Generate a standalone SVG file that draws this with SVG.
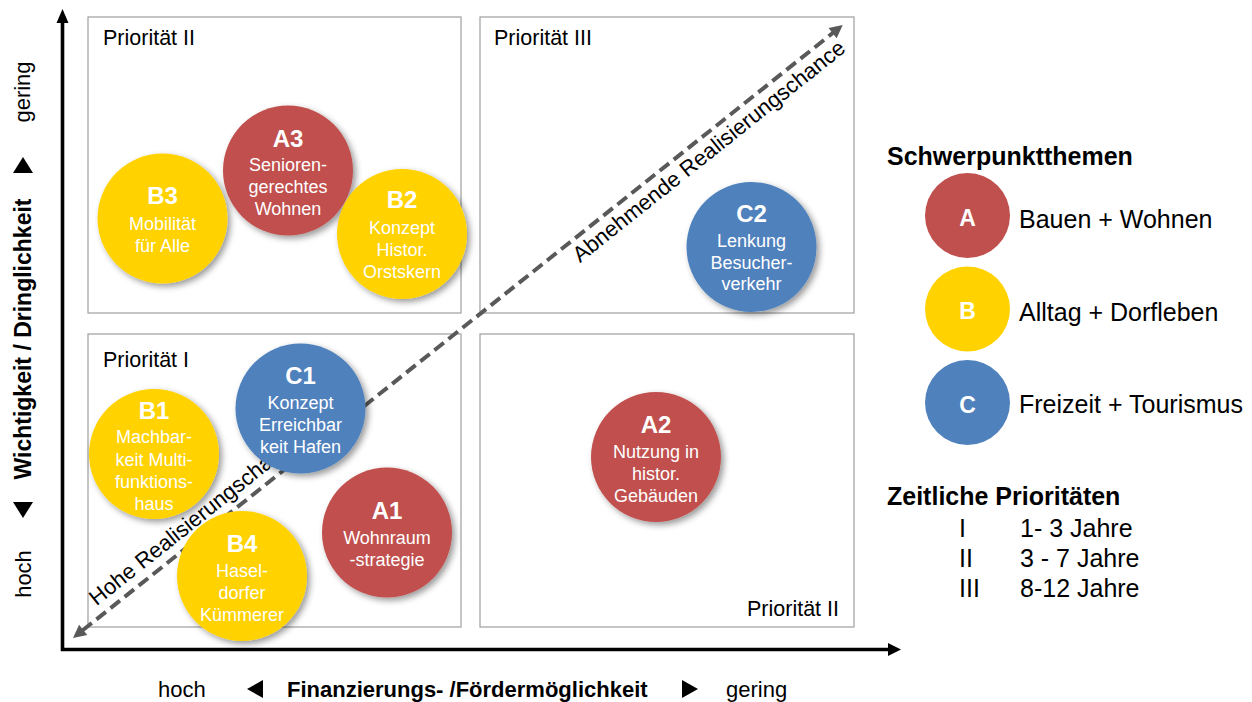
<svg xmlns="http://www.w3.org/2000/svg" width="1252" height="702" viewBox="0 0 1252 702">
<defs>
<style>
text{font-family:"Liberation Sans",Arial,Helvetica,sans-serif;}
.box{fill:#fff;stroke:#a6a6a6;stroke-width:1.3;}
.prio{font-size:21.5px;fill:#000;}
.ct{font-size:24px;font-weight:bold;fill:#fff;text-anchor:middle;}
.cb{font-size:18px;fill:#fff;text-anchor:middle;}
.red{fill:#c0504d;}
.yel{fill:#ffd200;}
.blu{fill:#4f81bd;}
.axis{stroke:#000;stroke-width:3.6;fill:none;}
.diag{stroke:#595959;stroke-width:4;fill:none;stroke-dasharray:12 6;}
.diagtxt{font-size:22px;fill:#000;}
.lab{font-size:22px;fill:#000;}
.labb{font-size:22px;font-weight:bold;fill:#000;}
.leg{font-size:25px;fill:#000;}
.legb{font-size:25px;font-weight:bold;fill:#000;}
.legl{font-size:23px;font-weight:bold;fill:#fff;text-anchor:middle;}
</style>
<filter id="sh" x="-20%" y="-20%" width="150%" height="150%">
<feDropShadow dx="3" dy="3" stdDeviation="3" flood-color="#000" flood-opacity="0.4"/>
</filter>
</defs>
<rect width="1252" height="702" fill="#fff"/>

<g id="quadrants">
<rect class="box" x="88" y="17" width="373" height="296"/>
<rect class="box" x="480" y="17" width="374" height="296"/>
<rect class="box" x="88" y="334" width="373" height="293"/>
<rect class="box" x="480" y="334" width="374" height="293"/>
<text class="prio" x="103" y="45">Priorität II</text>
<text class="prio" x="494" y="45">Priorität III</text>
<text class="prio" x="103" y="367">Priorität I</text>
<text class="prio" x="839" y="616" text-anchor="end">Priorität II</text>
</g>

<g id="connectors">
<polyline class="axis" points="62.5,22 62.5,649.5 889,649.5"/>
<polygon points="62.5,9 56.5,23 68.5,23" fill="#000"/>
<polygon points="901,649.5 888,643 888,656" fill="#000"/>
<g transform="translate(73,638) rotate(-38.53)">
<line class="diag" x1="12" y1="0" x2="972" y2="0"/>
<polygon points="0,0 13,-6.5 13,6.5" fill="#595959"/>
<polygon points="984,0 971,-6.5 971,6.5" fill="#595959"/>
<text class="diagtxt" x="38" y="-10">Hohe Realisierungschance</text>
<text class="diagtxt" x="630" y="22.6">Abnehmende Realisierungschance</text>
</g>
</g>

<g id="axis-labels">
<text class="lab" transform="translate(30,92) rotate(-90)" text-anchor="middle">gering</text>
<polygon points="23,157 13,173 33,173" fill="#000"/>
<text class="labb" transform="translate(31,339) rotate(-90)" text-anchor="middle" style="font-size:23px">Wichtigkeit / Dringlichkeit</text>
<polygon points="13,502 33,502 23,518" fill="#000"/>
<text class="lab" transform="translate(31,574) rotate(-90)" text-anchor="middle">hoch</text>
<text class="lab" x="158" y="697">hoch</text>
<polygon points="247,689 263,680 263,698" fill="#000"/>
<text class="labb" x="287" y="697">Finanzierungs- /Fördermöglichkeit</text>
<polygon points="698,689 682,680 682,698" fill="#000"/>
<text class="lab" x="726" y="697">gering</text>
</g>

<g id="B3">
<circle class="yel" cx="162.5" cy="218.5" r="65" filter="url(#sh)"/>
<text class="ct" x="162.5" y="204">B3</text>
<text class="cb" x="162.5" y="230">Mobilität</text>
<text class="cb" x="162.5" y="252">für Alle</text>
</g>
<g id="A3">
<circle class="red" cx="288" cy="170.5" r="65" filter="url(#sh)"/>
<text class="ct" x="288" y="147">A3</text>
<text class="cb" x="288" y="171">Senioren-</text>
<text class="cb" x="288" y="193">gerechtes</text>
<text class="cb" x="288" y="215">Wohnen</text>
</g>
<g id="B2">
<circle class="yel" cx="402" cy="234" r="65" filter="url(#sh)"/>
<text class="ct" x="402" y="208">B2</text>
<text class="cb" x="402" y="234">Konzept</text>
<text class="cb" x="402" y="256">Histor.</text>
<text class="cb" x="402" y="278">Orstskern</text>
</g>
<g id="C2">
<circle class="blu" cx="751.5" cy="247" r="65" filter="url(#sh)"/>
<text class="ct" x="751.5" y="222">C2</text>
<text class="cb" x="751.5" y="247">Lenkung</text>
<text class="cb" x="751.5" y="269">Besucher-</text>
<text class="cb" x="751.5" y="290">verkehr</text>
</g>
<g id="B1">
<circle class="yel" cx="154" cy="454" r="65" filter="url(#sh)"/>
<text class="ct" x="154" y="419">B1</text>
<text class="cb" x="154" y="443">Machbar-</text>
<text class="cb" x="154" y="466">keit Multi-</text>
<text class="cb" x="154" y="488">funktions-</text>
<text class="cb" x="154" y="510">haus</text>
</g>
<g id="C1">
<circle class="blu" cx="300.5" cy="408.5" r="65" filter="url(#sh)"/>
<text class="ct" x="300.5" y="384">C1</text>
<text class="cb" x="300.5" y="409">Konzept</text>
<text class="cb" x="300.5" y="431">Erreichbar</text>
<text class="cb" x="300.5" y="453">keit Hafen</text>
</g>
<g id="A1">
<circle class="red" cx="387" cy="532.5" r="65" filter="url(#sh)"/>
<text class="ct" x="387" y="519">A1</text>
<text class="cb" x="387" y="544">Wohnraum</text>
<text class="cb" x="387" y="566">-strategie</text>
</g>
<g id="B4">
<circle class="yel" cx="242" cy="576" r="65" filter="url(#sh)"/>
<text class="ct" x="242" y="552">B4</text>
<text class="cb" x="242" y="577">Hasel-</text>
<text class="cb" x="242" y="599">dorfer</text>
<text class="cb" x="242" y="621">Kümmerer</text>
</g>
<g id="A2">
<circle class="red" cx="656" cy="457" r="65" filter="url(#sh)"/>
<text class="ct" x="656" y="433">A2</text>
<text class="cb" x="656" y="458">Nutzung in</text>
<text class="cb" x="656" y="480">histor.</text>
<text class="cb" x="656" y="502">Gebäuden</text>
</g>

<g id="legend-themes">
<text class="legb" x="887" y="165">Schwerpunktthemen</text>
<circle class="red" cx="967.5" cy="215.5" r="42.5"/>
<text class="legl" x="967.5" y="226">A</text>
<text class="leg" x="1019" y="228">Bauen + Wohnen</text>
<circle class="yel" cx="967.5" cy="309" r="42.5"/>
<text class="legl" x="967.5" y="318.5">B</text>
<text class="leg" x="1019" y="320.5">Alltag + Dorfleben</text>
<circle class="blu" cx="967.5" cy="402.5" r="42.5"/>
<text class="legl" x="967.5" y="412.5">C</text>
<text class="leg" x="1019" y="413">Freizeit + Tourismus</text>
</g>
<g id="legend-priorities">
<text class="legb" x="887" y="505">Zeitliche Prioritäten</text>
<text class="leg" x="959" y="537">I</text>
<text class="leg" x="1020" y="537">1- 3 Jahre</text>
<text class="leg" x="959" y="567">II</text>
<text class="leg" x="1020" y="567">3 - 7 Jahre</text>
<text class="leg" x="959" y="597">III</text>
<text class="leg" x="1020" y="597">8-12 Jahre</text>
</g>
</svg>
